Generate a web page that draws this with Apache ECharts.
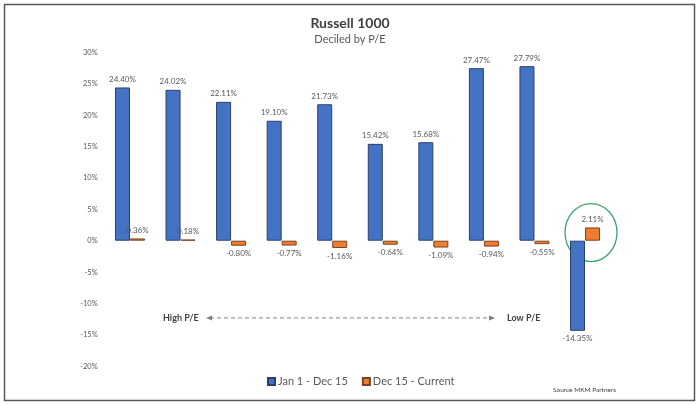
<!DOCTYPE html>
<html><head><meta charset="utf-8">
<script src="https://cdn.jsdelivr.net/npm/echarts@6/dist/echarts.min.js"></script>
<style>html,body{margin:0;padding:0;background:#fff}#c{width:700px;height:405px}</style>
</head><body><div id="c"></div>
<script>
const categories = ['D1','D2','D3','D4','D5','D6','D7','D8','D9','D10'];
const janToDec15 = [24.40, 24.02, 22.11, 19.10, 21.73, 15.42, 15.68, 27.47, 27.79, -14.35];
const dec15ToCurrent = [0.36, 0.18, -0.80, -0.77, -1.16, -0.64, -1.09, -0.94, -0.55, 2.11];
const seriesNames = ['Jan 1 - Dec 15', 'Dec 15 - Current'];
const yTicks = {min: -20, max: 30, interval: 5};

const FONT = 'Lato';
const chart = echarts.init(document.getElementById('c'));
function lbl() {
  return {
    show: true, fontSize: 8, color: '#595959', fontFamily: FONT, distance: 4,
    formatter: p => p.value.toFixed(2) + '%'
  };
}
function mk(vals) {
  return vals.map(v => ({value: v, label: {position: v >= 0 ? 'top' : 'bottom'}}));
}
chart.setOption({
  animation: false,
  title: {
    text: 'Russell 1000', subtext: 'Deciled by P/E', left: 'center', top: 11, itemGap: 4,
    textStyle: {fontSize: 14, fontWeight: 'bold', color: '#404040', fontFamily: FONT},
    subtextStyle: {fontSize: 11, color: '#595959', fontFamily: FONT}
  },
  legend: {
    bottom: 13, left: 262, itemWidth: 7, itemHeight: 7, itemGap: 14,
    icon: 'rect',
    textStyle: {fontSize: 11, color: '#595959', fontFamily: FONT, padding: [0,0,0,-2]},
    data: seriesNames
  },
  grid: {left: 104.7, right: 89.7, top: 52.3, bottom: 38.7},
  xAxis: {
    type: 'category', data: categories,
    axisLine: {show: false}, axisTick: {show: false}, axisLabel: {show: false}
  },
  yAxis: {
    type: 'value', min: yTicks.min, max: yTicks.max, interval: yTicks.interval,
    splitLine: {show: false}, axisLine: {show: false}, axisTick: {show: false},
    axisLabel: {formatter: '{value}%', fontSize: 7.5, color: '#595959', fontFamily: FONT, margin: 7}
  },
  series: [
    {name: seriesNames[0], type: 'bar', data: mk(janToDec15), barWidth: 15, barGap: '0%',
     itemStyle: {color: '#4472C4', borderColor: '#2B406B', borderWidth: 1}, label: lbl()},
    {name: seriesNames[1], type: 'bar', data: mk(dec15ToCurrent), barWidth: 15, barGap: '0%',
     itemStyle: {color: '#ED7D31', borderColor: '#7A4420', borderWidth: 1}, label: lbl()}
  ]
});

// annotations anchored to axis coordinates
const pHighY = chart.convertToPixel({yAxisIndex: 0}, -12.3);
const c10 = chart.convertToPixel({xAxisIndex: 0}, 'D10');
const y0 = chart.convertToPixel({yAxisIndex: 0}, 1.3);
const lineX1 = 206, lineX2 = 495;
chart.setOption({
  graphic: [
    {type: 'rect', shape: {x: 4.5, y: 4.5, width: 690, height: 396},
     style: {fill: 'none', stroke: '#595959', lineWidth: 1.5}, silent: true},
    {type: 'text', x: 163, y: pHighY, style: {text: 'High P/E', fontSize: 9, fontWeight: 'bold', fill: '#404040', fontFamily: FONT, verticalAlign: 'middle'}},
    {type: 'line', shape: {x1: lineX1 + 4, y1: pHighY, x2: lineX2 - 4, y2: pHighY},
     style: {stroke: '#7f7f7f', lineWidth: 1, lineDash: [4, 3]}},
    {type: 'polygon', shape: {points: [[lineX1, pHighY], [lineX1 + 6, pHighY - 2.5], [lineX1 + 6, pHighY + 2.5]]}, style: {fill: '#7f7f7f'}},
    {type: 'polygon', shape: {points: [[lineX2, pHighY], [lineX2 - 6, pHighY - 2.5], [lineX2 - 6, pHighY + 2.5]]}, style: {fill: '#7f7f7f'}},
    {type: 'text', x: 507, y: pHighY, style: {text: 'Low P/E', fontSize: 9, fontWeight: 'bold', fill: '#404040', fontFamily: FONT, verticalAlign: 'middle'}},
    {type: 'ellipse', shape: {cx: c10 + 6, cy: y0, rx: 26, ry: 29},
     style: {fill: 'none', stroke: '#3AA66C', lineWidth: 1.3}},
    {type: 'text', x: 553, y: 390, style: {text: 'Source MKM Partners', fontSize: 6.5, fill: '#404040', fontFamily: FONT, verticalAlign: 'middle'}}
  ]
});
</script></body></html>
